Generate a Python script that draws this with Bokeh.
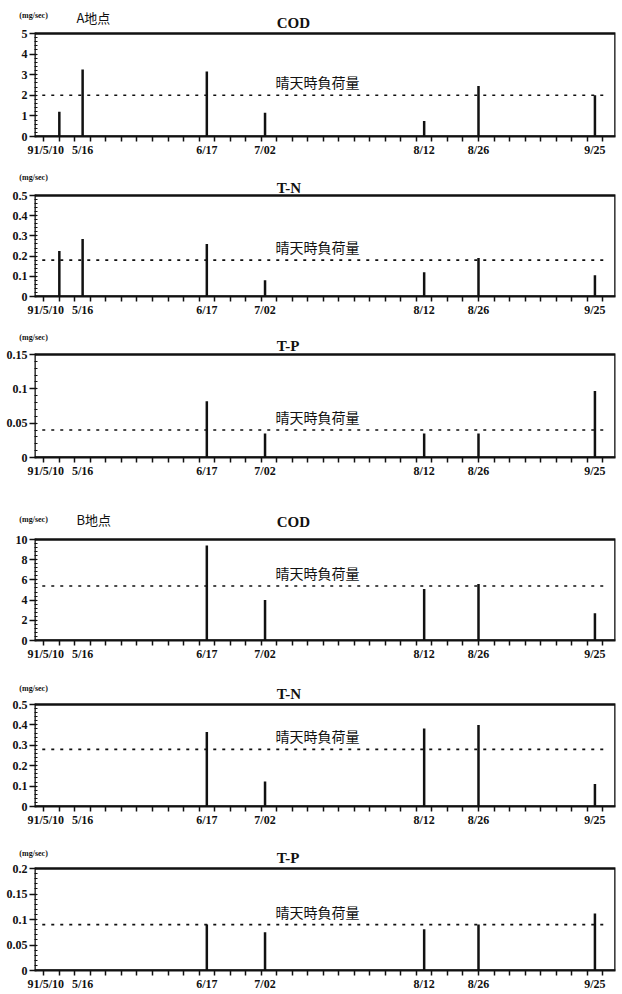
from bokeh.plotting import figure
from bokeh.layouts import column
from bokeh.models import (FixedTicker, PrintfTickFormatter, Label,
                          ColumnDataSource, Range1d)
from bokeh.embed import file_html
from bokeh.resources import INLINE

# ---------------- data ----------------
date_labels = ["91/5/10", "5/16", "6/17", "7/02", "8/12", "8/26", "9/25"]
sample_days = [0, 6, 38, 53, 94, 108, 138]          # days after 1991/5/10
label_shift = [-3.5, 0, 0, 0, 0, 0, 0]              # nudge of tick-label position (days)

a_cod = [1.2, 3.25, 3.15, 1.15, 0.75, 2.45, 2.0]
a_tn = [0.225, 0.285, 0.26, 0.08, 0.12, 0.19, 0.105]
a_tp = [None, None, 0.082, 0.035, 0.035, 0.035, 0.097]
b_cod = [None, None, 9.4, 4.0, 5.1, 5.6, 2.7]
b_tn = [None, None, 0.365, 0.122, 0.382, 0.40, 0.11]
b_tp = [None, None, 0.09, 0.075, 0.081, 0.09, 0.112]

dry_weather_load = [2.0, 0.18, 0.04, 5.4, 0.28, 0.09]   # 晴天時負荷量

series = [a_cod, a_tn, a_tp, b_cod, b_tn, b_tp]
titles = ["COD", "T-N", "T-P", "COD", "T-N", "T-P"]
sites = ["A地点", None, None, "B地点", None, None]
y_max = [5, 0.5, 0.15, 10, 0.5, 0.2]
y_ticks = [
    [0, 1, 2, 3, 4, 5],
    [0, 0.1, 0.2, 0.3, 0.4, 0.5],
    [0, 0.05, 0.1, 0.15],
    [0, 2, 4, 6, 8, 10],
    [0, 0.1, 0.2, 0.3, 0.4, 0.5],
    [0, 0.05, 0.1, 0.15, 0.2],
]
unit_label = "(mg/sec)"
base_label = "晴天時負荷量"

# ---------------- layout / style ----------------
x_tick_days = list(range(-4, 144, 4))
X_LO, X_HI = -6.4, 143.3
DOT_LO, DOT_HI = -4.4, 140.3
MB = 10                                   # top border (holds the unit label)
heights = [165, 161, 164, 175, 165, 164]  # figure heights (sum = 994)
boxes = [103, 101, 103, 101, 102, 102]    # box (plot area) heights, px
bottoms = [29, 30, 33, 25, 24, 24]
unit_dy = [18, 18, 17, 20, 16, 15]        # px above box top
site_dy = [16, None, None, 20, None, None]
title_dy = [10.5, 7.5, 8.5, 18, 11, 11]
UNIT_X, SITE_X, TITLE_X = -10.3, 4.4, 56  # x positions (days)

SERIF = "Liberation Serif"
CJK = "Noto Sans CJK JP"
INK = "#111111"

label_days = [d + s for d, s in zip(sample_days, label_shift)]

items = []
for i in range(6):
    fh = heights[i] - MB - bottoms[i]      # frame height (box + header area)
    y_top = y_max[i] * fh / boxes[i]
    p = figure(width=622, height=heights[i],
               min_border_left=34, min_border_right=7,
               min_border_top=MB, min_border_bottom=bottoms[i],
               x_range=Range1d(X_LO, X_HI), y_range=Range1d(0, y_top),
               toolbar_location=None, output_backend="svg",
               background_fill_color="white", border_fill_color="white")
    p.grid.visible = False
    p.outline_line_color = None

    # plot box
    p.quad(left=[X_LO], right=[X_HI], bottom=[0], top=[y_max[i]],
           fill_color=None, line_color=INK, line_width=2.6)

    xa = p.xaxis[0]
    xa.ticker = FixedTicker(ticks=label_days, minor_ticks=x_tick_days)
    xa.major_label_overrides = {d: t for d, t in zip(label_days, date_labels)}
    xa.major_label_text_font = SERIF
    xa.major_label_text_font_style = "bold"
    xa.major_label_text_font_size = "12px"
    xa.major_label_text_color = INK
    xa.major_label_standoff = 1
    xa.major_tick_out = 0
    xa.major_tick_in = 0
    xa.minor_tick_out = 5
    xa.minor_tick_in = 0
    xa.minor_tick_line_width = 1.5
    xa.minor_tick_line_color = INK
    xa.axis_line_width = 2
    xa.axis_line_color = INK

    ya = p.yaxis[0]
    ticks = y_ticks[i]
    step = ticks[1] - ticks[0]
    minor = [k * step / 5 for k in range(0, 5 * (len(ticks) - 1) + 1)]
    ya.ticker = FixedTicker(ticks=ticks, minor_ticks=minor)
    ya.formatter = PrintfTickFormatter(format="%g")
    ya.major_label_text_font = SERIF
    ya.major_label_text_font_style = "bold"
    ya.major_label_text_font_size = "12px"
    ya.major_label_text_color = INK
    ya.major_tick_out = 5
    ya.major_tick_in = 2
    ya.minor_tick_out = 0
    ya.minor_tick_in = 3
    ya.major_label_standoff = 2
    ya.axis_line_color = None
    ya.major_tick_line_color = INK
    ya.minor_tick_line_color = INK
    ya.major_tick_line_width = 1.5

    vals = series[i]
    bx = [d for d, v in zip(sample_days, vals) if v is not None]
    by = [v for v in vals if v is not None]
    src = ColumnDataSource(dict(x=bx, y0=[0] * len(bx), y1=by))
    p.segment(x0="x", y0="y0", x1="x", y1="y1", source=src,
              line_width=2.5, line_color=INK)

    base = dry_weather_load[i]
    p.line([DOT_LO, DOT_HI], [base, base], line_dash="3 6",
           line_width=1.6, line_color=INK)
    p.add_layout(Label(x=66.5, y=base, y_offset=13, text=base_label,
                       text_align="center", text_baseline="middle",
                       text_font=CJK, text_font_size="14px", text_color=INK))

    # header texts
    p.add_layout(Label(x=UNIT_X, y=y_max[i], y_offset=unit_dy[i], text=unit_label,
                       text_align="left", text_baseline="middle",
                       text_font=SERIF, text_font_style="bold",
                       text_font_size="8px", text_color=INK), "above")
    if sites[i]:
        p.add_layout(Label(x=SITE_X, y=y_max[i], y_offset=site_dy[i], text=sites[i],
                           text_align="left", text_baseline="middle",
                           text_font=CJK, text_font_size="13px", text_color=INK))
    p.add_layout(Label(x=TITLE_X, y=y_max[i], y_offset=title_dy[i], text=titles[i],
                       text_align="left", text_baseline="middle",
                       text_font=SERIF, text_font_style="bold",
                       text_font_size="15px", text_color=INK))
    items.append(p)

layout = column(*items, spacing=0)
open("out.html", "w").write(file_html(layout, INLINE))
